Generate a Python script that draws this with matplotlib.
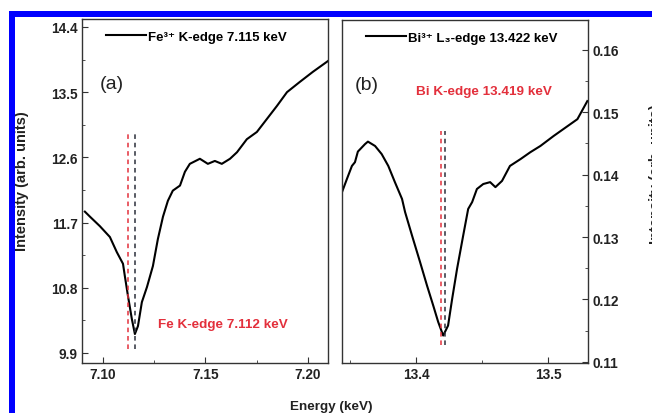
import numpy as np
import matplotlib
matplotlib.use("Agg")
import matplotlib.pyplot as plt
from matplotlib.ticker import MultipleLocator
from matplotlib.lines import Line2D

plt.rcParams['font.family'] = ['Liberation Sans', 'DejaVu Sans']
plt.rcParams['font.weight'] = 'bold'

# ---- data ------------------------------------------------------------------
fe_energy = [7.0912, 7.0937, 7.0985, 7.1034, 7.1068, 7.1098, 7.1107, 7.1122,
             7.1141, 7.1156, 7.1171, 7.1190, 7.1215, 7.1244, 7.1268, 7.1293,
             7.1317, 7.1341, 7.1376, 7.1400, 7.1424, 7.1473, 7.1512, 7.1546,
             7.1580, 7.1620, 7.1654, 7.1702, 7.1751, 7.1800, 7.1849, 7.1898,
             7.1960, 7.2024, 7.2098]
fe_int = [11.85, 11.78, 11.65, 11.50, 11.29, 11.13, 10.96, 10.69,
          10.37, 10.16, 10.27, 10.60, 10.81, 11.10, 11.47, 11.78,
          12.00, 12.14, 12.21, 12.40, 12.51, 12.58, 12.51, 12.55,
          12.51, 12.58, 12.67, 12.85, 12.95, 13.13, 13.31, 13.50,
          13.64, 13.78, 13.93]

bi_energy = [13.344, 13.3477, 13.3515, 13.3538, 13.356, 13.3614, 13.3636,
             13.369, 13.374, 13.379, 13.384, 13.3894, 13.3917, 13.397,
             13.403, 13.4083, 13.413, 13.4167, 13.4205, 13.4242, 13.4273,
             13.431, 13.4356, 13.4394, 13.4424, 13.446, 13.4508, 13.456,
             13.460, 13.465, 13.471, 13.479, 13.4864, 13.494, 13.504,
             13.514, 13.522, 13.5295]
bi_int = [0.1372, 0.1393, 0.1414, 0.1420, 0.1437, 0.1449, 0.1453,
          0.1446, 0.1433, 0.1414, 0.1388, 0.1361, 0.1340, 0.1302,
          0.1260, 0.1222, 0.1190, 0.1164, 0.1142, 0.1158, 0.1201,
          0.1249, 0.1302, 0.1345, 0.1356, 0.1377, 0.1385, 0.1388,
          0.1380, 0.1390, 0.1414, 0.1425, 0.1436, 0.1446, 0.1462,
          0.1477, 0.1489, 0.1518]

fe_edges = [7.112, 7.1155]      # red (Fe K-edge), dark (Fe3+ K-edge)
fe_span = [9.95, 12.92]
bi_edges = [13.419, 13.4215]    # red (Bi K-edge), dark (Bi3+ L3-edge)
bi_span = [0.1127, 0.1470]

RED = "#e3303c"
DARK = "#2b2f3a"
SPINE = "#333333"
TXT = "#222222"

fig = plt.figure(figsize=(6.52, 4.14), dpi=100)
W, H = 652, 414

def axpos(x0, y0, x1, y1):
    return [x0 / W, 1 - y1 / H, (x1 - x0) / W, (y1 - y0) / H]

def style(ax):
    for s in ax.spines.values():
        s.set_color(SPINE)
        s.set_linewidth(1.0)
    ax.tick_params(which="both", direction="in", colors=SPINE,
                   labelcolor=TXT, labelsize=9.8, pad=3)
    ax.tick_params(which="major", length=4)
    ax.tick_params(which="minor", length=2.5)
    for lab in ax.get_xticklabels() + ax.get_yticklabels():
        lab.set_fontweight("bold")

# ---- panel (a) -------------------------------------------------------------
ax1 = fig.add_axes(axpos(82, 20, 328, 364))
ax1.plot(fe_energy, fe_int, color="black", lw=1.5)
ax1.vlines(fe_edges[0], *fe_span, colors=RED, linestyles=(0, (3, 2.5)), lw=1.1)
ax1.vlines(fe_edges[1], *fe_span, colors=DARK, linestyles=(0, (3, 2.5)), lw=1.1)
ax1.set_xlim(7.0898, 7.2098)
ax1.set_ylim(9.76, 14.51)
ax1.set_xticks([7.10, 7.15, 7.20])
ax1.set_xticklabels(["7.10", "7.15", "7.20"])
ax1.set_yticks([9.9, 10.8, 11.7, 12.6, 13.5, 14.4])
ax1.xaxis.set_minor_locator(MultipleLocator(0.025))
ax1.yaxis.set_minor_locator(MultipleLocator(0.45))
style(ax1)
ax1.text(0.072, 0.80, "(a)", transform=ax1.transAxes, fontsize=14,
         fontweight="normal", color=TXT)
ax1.text(0.31, 0.105, "Fe K-edge 7.112 keV", transform=ax1.transAxes,
         color=RED, fontsize=9.7, fontweight="bold")
ax1.legend([Line2D([], [], color="black", lw=1.5)],
           ["Fe\u00b3\u207a K-edge 7.115 keV"],
           loc="upper left", bbox_to_anchor=(0.05, 1.0), frameon=False,
           handlelength=3.0, handletextpad=0.2,
           prop={"weight": "bold", "size": 9.5,
                 "family": ["Liberation Sans", "DejaVu Sans"]})

# ---- panel (b) -------------------------------------------------------------
ax2 = fig.add_axes(axpos(342, 21, 588, 364))
ax2.plot(bi_energy, bi_int, color="black", lw=1.5)
ax2.vlines(bi_edges[0], *bi_span, colors=RED, linestyles=(0, (3, 2.5)), lw=1.1)
ax2.vlines(bi_edges[1], *bi_span, colors=DARK, linestyles=(0, (3, 2.5)), lw=1.1)
ax2.set_xlim(13.344, 13.530)
ax2.set_ylim(0.1098, 0.1648)
ax2.set_xticks([13.4, 13.5])
ax2.set_xticklabels(["13.4", "13.5"])
ax2.set_yticks([0.11, 0.12, 0.13, 0.14, 0.15, 0.16])
ax2.set_yticklabels(["0.11", "0.12", "0.13", "0.14", "0.15", "0.16"])
ax2.xaxis.set_minor_locator(MultipleLocator(0.05))
ax2.yaxis.set_minor_locator(MultipleLocator(0.005))
ax2.yaxis.tick_right()
style(ax2)
ax2.tick_params(axis="y", which="both", left=False)
ax2.text(0.05, 0.80, "(b)", transform=ax2.transAxes, fontsize=14,
         fontweight="normal", color=TXT)
ax2.text(0.30, 0.785, "Bi K-edge 13.419 keV", transform=ax2.transAxes,
         color=RED, fontsize=9.7, fontweight="bold")
ax2.legend([Line2D([], [], color="black", lw=1.5)],
           ["Bi\u00b3\u207a L\u2083-edge 13.422 keV"],
           loc="upper left", bbox_to_anchor=(0.05, 1.0), frameon=False,
           handlelength=3.0, handletextpad=0.2,
           prop={"weight": "bold", "size": 9.5,
                 "family": ["Liberation Sans", "DejaVu Sans"]})

# ---- shared labels ---------------------------------------------------------
fig.text(331 / W, 1 - 407 / H, "Energy (keV)", ha="center", va="center",
         fontsize=9.7, fontweight="bold", color=TXT)
fig.text(22 / W, 1 - 181 / H, "Intensity (arb. units)", ha="center",
         va="center", rotation=90, fontsize=10.5, fontweight="bold",
         color=TXT)
# right-hand label runs off the edge of the picture, as in the original crop
fig.text(656 / W, 1 - 174 / H, "Intensity (arb. units)", ha="center",
         va="center", rotation=90, fontsize=10.5, fontweight="bold",
         color=TXT)

# ---- blue frame (top and left edges) ---------------------------------------
fig.add_artist(plt.Rectangle((9 / W, 0), 6 / W, 1 - 12 / H,
                             transform=fig.transFigure, color="#0000ff",
                             lw=0, zorder=10))
fig.add_artist(plt.Rectangle((9 / W, 1 - 18 / H), 1, 6 / H,
                             transform=fig.transFigure, color="#0000ff",
                             lw=0, zorder=10))

fig.savefig("out.png", dpi=100)
